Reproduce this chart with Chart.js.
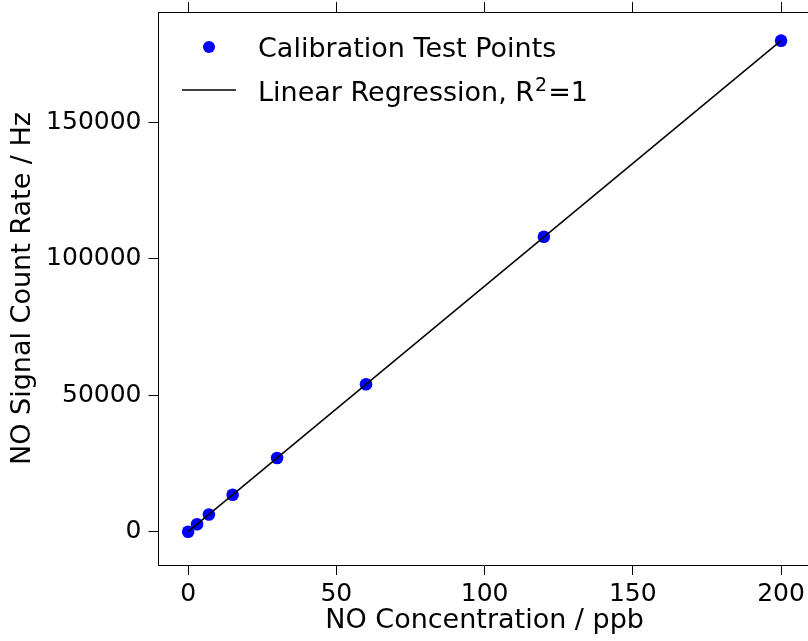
<!DOCTYPE html>
<html>
<head>
<meta charset="utf-8">
<script src="https://cdn.jsdelivr.net/npm/chart.js@4"></script>
<style>
  html, body { margin: 0; padding: 0; background: #fff; overflow: hidden; }
  #wrap { width: 808px; height: 641px; overflow: hidden; }
</style>
</head>
<body>
<div id="wrap"><canvas id="calChart" width="817" height="641"></canvas></div>
<script>
// calibration data
const concPpb = [0, 3, 7, 15, 30, 60, 120, 200];
const countHz = [0, 2700, 6300, 13500, 27000, 54000, 108000, 179800];
// fitted line end points
const fitX = [0, 200];
const fitY = [0, 179800];
const xTicks = [0, 50, 100, 150, 200];
const yTicks = [0, 50000, 100000, 150000];

Chart.defaults.font.family = 'DejaVu Sans';
Chart.defaults.color = '#000';

const tickFont = { size: 25 };
const titleFont = { size: 27 };

// legend sits inside the plot, drawn by hand
const legendInside = {
  id: 'legendInside',
  afterDraw(chart) {
    const ctx = chart.ctx;
    ctx.save();
    ctx.fillStyle = '#0000ff';
    ctx.beginPath();
    ctx.arc(209, 47, 6, 0, Math.PI * 2);
    ctx.fill();
    ctx.strokeStyle = '#000';
    ctx.lineWidth = 1.5;
    ctx.beginPath();
    ctx.moveTo(182, 90);
    ctx.lineTo(236, 90);
    ctx.stroke();

    ctx.fillStyle = '#000';
    ctx.textBaseline = 'alphabetic';
    ctx.font = '27px "DejaVu Sans"';
    ctx.fillText('Calibration Test Points', 258, 57);
    let x = 258;
    const part1 = 'Linear Regression, R';
    ctx.fillText(part1, x, 101);
    x += ctx.measureText(part1).width + 1;
    ctx.font = '19px "DejaVu Sans"';
    ctx.fillText('2', x, 91);
    x += ctx.measureText('2').width + 1;
    ctx.font = '27px "DejaVu Sans"';
    ctx.fillText('=1', x, 101);
    ctx.restore();
  }
};

const ctx = document.getElementById('calChart').getContext('2d');
const calChart = new Chart(ctx, {
  type: 'scatter',
  data: {
    datasets: [
      {
        type: 'line',
        label: 'Linear Regression, R²=1',
        data: fitX.map((x, i) => ({ x: x, y: fitY[i] })),
        borderColor: '#000',
        borderWidth: 1.5,
        pointRadius: 0,
        fill: false,
        order: 0
      },
      {
        label: 'Calibration Test Points',
        data: concPpb.map((x, i) => ({ x: x, y: countHz[i] })),
        backgroundColor: '#0000ff',
        borderWidth: 0,
        pointRadius: 6.3,
        order: 1
      }
    ]
  },
  options: {
    responsive: false,
    animation: false,
    devicePixelRatio: 1,
    layout: { padding: 0 },
    plugins: {
      legend: { display: false },
      tooltip: { enabled: false }
    },
    scales: {
      x: {
        type: 'linear',
        position: 'bottom',
        min: -10,
        max: 210,
        afterBuildTicks: s => { s.ticks = xTicks.map(v => ({ value: v })); },
        afterFit: s => { s.height = 76; s.paddingLeft = 0; s.paddingRight = 0; },
        grid: { drawOnChartArea: false, tickLength: 10, tickColor: '#000', tickWidth: 1 },
        border: { color: '#000', width: 1 },
        ticks: { font: tickFont, padding: 4, maxRotation: 0 },
        title: { display: true, text: 'NO Concentration / ppb', font: titleFont, padding: 4 }
      },
      x2: {
        type: 'linear',
        position: 'top',
        min: -10,
        max: 210,
        afterBuildTicks: s => { s.ticks = xTicks.map(v => ({ value: v })); },
        afterFit: s => { s.height = 12; s.paddingLeft = 0; s.paddingRight = 0; },
        grid: { drawOnChartArea: false, tickLength: 10, tickColor: '#000', tickWidth: 1 },
        border: { color: '#000', width: 1 },
        ticks: { display: false }
      },
      y: {
        type: 'linear',
        position: 'left',
        min: -12200,
        max: 190300,
        afterBuildTicks: s => { s.ticks = yTicks.map(v => ({ value: v })); },
        afterFit: s => { s.width = 158.5; s.paddingTop = 0; s.paddingBottom = 0; },
        grid: { drawOnChartArea: false, tickLength: 10, tickColor: '#000', tickWidth: 1 },
        border: { color: '#000', width: 1 },
        ticks: { font: tickFont, padding: 7, callback: v => String(v) },
        title: { display: true, text: 'NO Signal Count Rate / Hz', font: titleFont, padding: { top: 7, bottom: 4 } }
      }
    }
  },
  plugins: [legendInside]
});
</script>
</body>
</html>
